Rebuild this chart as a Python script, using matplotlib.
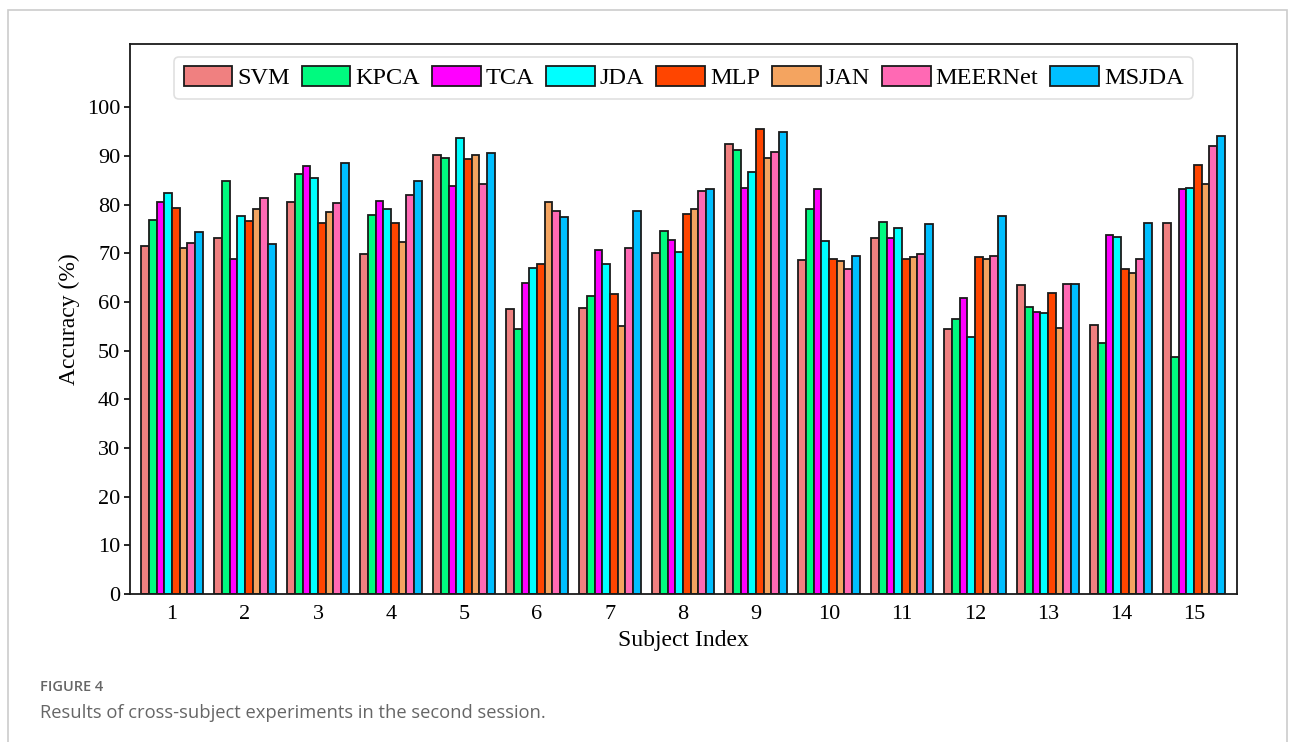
import matplotlib
matplotlib.use("Agg")
import matplotlib.pyplot as plt
import numpy as np
from matplotlib.patches import Rectangle

subjects = [str(i) for i in range(1, 16)]
methods = ["SVM", "KPCA", "TCA", "JDA", "MLP", "JAN", "MEERNet", "MSJDA"]
colors = ["#F08080", "#00FA7F", "#FF00FF", "#00FFFF", "#FF4500", "#F4A460", "#FF69B4", "#00BFFF"]

svm     = [71.5, 73.1, 80.5, 69.8, 90.2, 58.5, 58.8, 70.0, 92.5, 68.6, 73.1, 54.5, 63.4, 55.2, 76.2]
kpca    = [76.8, 84.8, 86.2, 77.9, 89.5, 54.5, 61.2, 74.6, 91.2, 79.2, 76.4, 56.6, 59.0, 51.5, 48.6]
tca     = [80.5, 68.8, 87.9, 80.8, 83.8, 63.9, 70.6, 72.7, 83.4, 83.2, 73.1, 60.8, 58.0, 73.7, 83.2]
jda     = [82.3, 77.7, 85.4, 79.0, 93.6, 67.0, 67.7, 70.3, 86.6, 72.6, 75.2, 52.7, 57.7, 73.4, 83.4]
mlp     = [79.4, 76.6, 76.3, 76.3, 89.4, 67.7, 61.6, 78.0, 95.6, 68.8, 68.9, 69.3, 61.8, 66.7, 88.1]
jan     = [71.1, 79.0, 78.4, 72.3, 90.2, 80.5, 55.0, 79.1, 89.6, 68.4, 69.2, 68.8, 54.7, 66.0, 84.2]
meernet = [72.1, 81.4, 80.4, 82.0, 84.3, 78.6, 71.1, 82.8, 90.8, 66.8, 69.9, 69.5, 63.7, 68.8, 92.0]
msjda   = [74.3, 72.0, 88.6, 84.9, 90.7, 77.5, 78.6, 83.2, 94.9, 69.4, 76.0, 77.6, 63.7, 76.2, 94.2]
series = [svm, kpca, tca, jda, mlp, jan, meernet, msjda]

serif = ["Liberation Serif", "DejaVu Serif"]

W, H = 1293, 742
fig = plt.figure(figsize=(W / 100, H / 100), dpi=100)

# outer panel border
fig.patches.append(Rectangle((8 / W, -0.01), (1287 - 8) / W, 1 - 10 / H + 0.01,
                             transform=fig.transFigure, fill=False,
                             edgecolor="#cccccc", linewidth=1.2))

ax = fig.add_axes([130 / W, 1 - 594 / H, (1237 - 130) / W, (594 - 44) / H])

x = np.arange(1, len(subjects) + 1)
bw = 0.105
n = len(methods)
for i, (name, vals, c) in enumerate(zip(methods, series, colors)):
    ax.bar(x + (i - (n - 1) / 2) * bw, vals, width=bw, color=c,
           edgecolor="#1a1a1a", linewidth=1.3, label=name)

ax.set_xlim(0.425, 15.59)
ax.set_ylim(0, 113)
ax.set_yticks(np.arange(0, 101, 10))
ax.set_xticks(x)
ax.set_xticklabels(subjects)
ax.tick_params(axis="x", length=0, pad=8, labelsize=16)
ax.tick_params(axis="y", length=4, width=1.2, direction="out", labelsize=16, pad=3)
for lab in ax.get_xticklabels() + ax.get_yticklabels():
    lab.set_family(serif)
for s in ax.spines.values():
    s.set_linewidth(1.3)
    s.set_color("#1a1a1a")

ax.set_xlabel("Subject Index", fontsize=17, family=serif, labelpad=4)
ax.set_ylabel("Accuracy (%)", fontsize=17, family=serif, labelpad=5)

leg = ax.legend(loc="upper center", bbox_to_anchor=(0.5, 1 - 13 / 550), ncol=8,
                prop={"family": serif, "size": 17.5}, handlelength=2.0,
                handleheight=0.85, handletextpad=0.2, columnspacing=0.5,
                frameon=True, fancybox=True, borderpad=0.38, borderaxespad=0)
leg.get_frame().set_edgecolor("#d9d9d9")
leg.get_frame().set_linewidth(1.2)

fig.text(40 / W, 1 - 691 / H, "FIGURE 4", fontsize=10.5, color="#666666",
         family=["Open Sans", "DejaVu Sans"], fontweight="semibold")
fig.text(40 / W, 1 - 718 / H, "Results of cross-subject experiments in the second session.",
         fontsize=13.2, color="#666666", family=["Open Sans", "DejaVu Sans"])

fig.savefig("out.png", dpi=100)
